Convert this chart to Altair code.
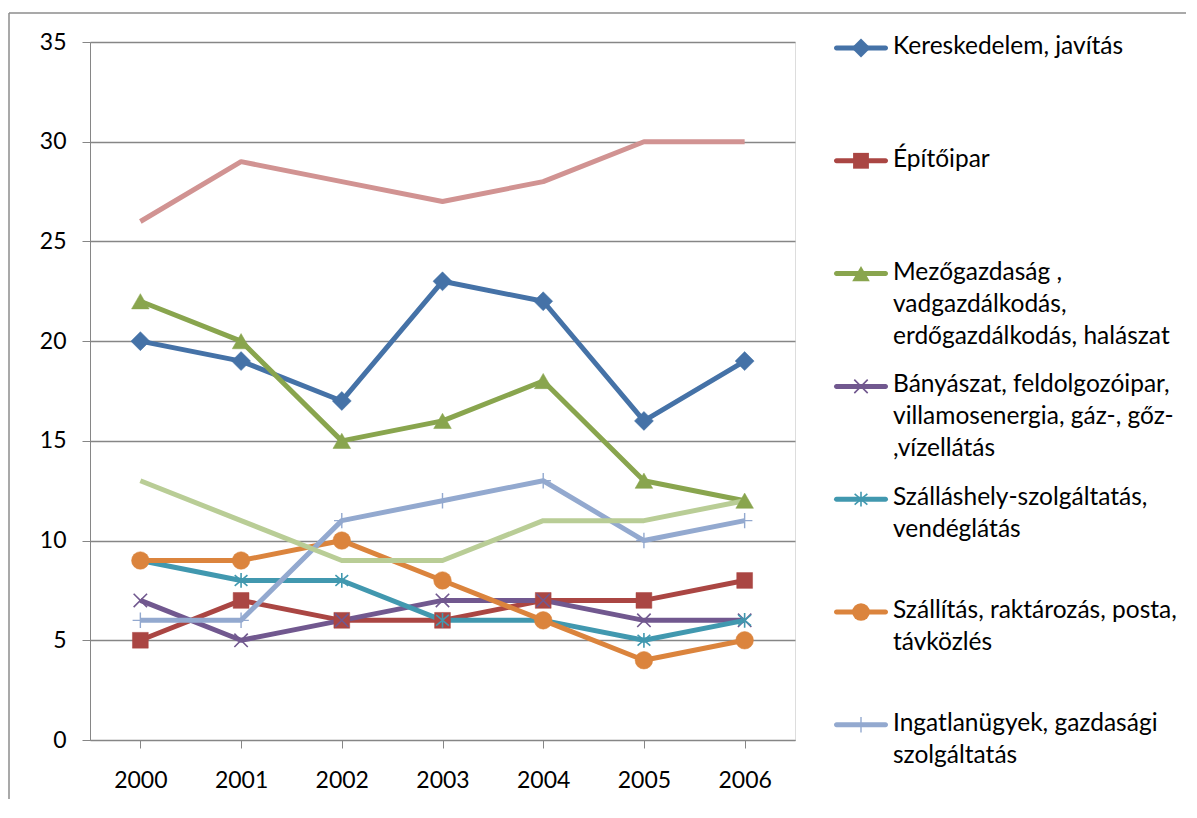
import altair as alt
import pandas as pd

years = ["2000", "2001", "2002", "2003", "2004", "2005", "2006"]

series_names = [
    "Kereskedelem, javítás",
    "Építőipar",
    "Mezőgazdaság , vadgazdálkodás, erdőgazdálkodás, halászat",
    "Bányászat, feldolgozóipar, villamosenergia, gáz-, gőz- ,vízellátás",
    "Szálláshely-szolgáltatás, vendéglátás",
    "Szállítás, raktározás, posta, távközlés",
    "Ingatlanügyek, gazdasági szolgáltatás",
    "Adatsor8",
    "Adatsor9",
]

kereskedelem = [20, 19, 17, 23, 22, 16, 19]
epitoipar = [5, 7, 6, 6, 7, 7, 8]
mezogazdasag = [22, 20, 15, 16, 18, 13, 12]
banyaszat = [7, 5, 6, 7, 7, 6, 6]
szallashely = [9, 8, 8, 6, 6, 5, 6]
szallitas = [9, 9, 10, 8, 6, 4, 5]
ingatlan = [6, 6, 11, 12, 13, 10, 11]
adatsor8 = [26, 29, 28, 27, 28, 30, 30]
adatsor9 = [13, 11, 9, 9, 11, 11, 12]

all_values = [kereskedelem, epitoipar, mezogazdasag, banyaszat, szallashely,
              szallitas, ingatlan, adatsor8, adatsor9]

legend_labels = [
    "Kereskedelem, javítás",
    "Építőipar",
    "Mezőgazdaság ,\nvadgazdálkodás,\nerdőgazdálkodás, halászat",
    "Bányászat, feldolgozóipar,\nvillamosenergia, gáz-, gőz-\n,vízellátás",
    "Szálláshely-szolgáltatás,\nvendéglátás",
    "Szállítás, raktározás, posta,\ntávközlés",
    "Ingatlanügyek, gazdasági\nszolgáltatás",
]

# styles
colors = ["#4572A7", "#AA4643", "#89A54E", "#71588F", "#4198AF",
          "#DB843D", "#93A9CF", "#D19392", "#B9CD96"]
X_PATH = "M-1,-1L1,1M-1,1L1,-1"
AST_PATH = "M0,-1.1L0,1.1M-0.95,-0.8L0.95,0.8M-0.95,0.8L0.95,-0.8"
PLUS_PATH = "M-1,0L1,0M0,-1L0,1"
markers = [
    ("diamond", 360, True, 0),
    ("square", 250, True, 0),
    ("triangle-up", 310, True, 0),
    (X_PATH, 180, False, 1.6),
    (AST_PATH, 180, False, 1.6),
    ("circle", 310, True, 0),
    (PLUS_PATH, 240, False, 1.4),
    None,
    None,
]

FONT = "Lato"
GRID = "#868686"
FRAME = "#8c8c8c"
LEG_X = 742  # legend block offset from plot's left edge (layout)

rows = []
for name, vals in zip(series_names, all_values):
    for yr, v in zip(years, vals):
        rows.append({"series": name, "year": yr, "value": v})
df = pd.DataFrame(rows)

x_enc = alt.X(
    "year:N", title=None, sort=years,
    scale=alt.Scale(paddingInner=0, paddingOuter=0),
    axis=alt.Axis(bandPosition=0, labelAngle=0, tickSize=8, tickColor=GRID,
                  domain=True, domainColor=GRID, labelPadding=21,
                  labelFontSize=23, labelFont=FONT, labelColor="#000000",
                  grid=False, labelBound=False),
)
y_enc = alt.Y(
    "value:Q", title=None,
    scale=alt.Scale(domain=[0, 35], nice=False, zero=True),
    axis=alt.Axis(values=[0, 5, 10, 15, 20, 25, 30, 35], grid=True,
                  gridColor=GRID, gridWidth=1.3, tickSize=8, tickColor=GRID,
                  domain=True, domainColor=GRID, labelPadding=16,
                  labelFontSize=23, labelFont=FONT, labelColor="#000000"),
)

layers = []
# chart frame (decoration only)
frame_df = pd.DataFrame({"f": [0]})
layers.append(alt.Chart(frame_df).mark_rule(color=FRAME, strokeWidth=1.5)
              .encode(x=alt.value(-81), x2=alt.value(1096), y=alt.value(-29)))
layers.append(alt.Chart(frame_df).mark_rule(color=FRAME, strokeWidth=1.5)
              .encode(x=alt.value(-81), y=alt.value(-29), y2=alt.value(757)))

for name, col, mk in zip(series_names, colors, markers):
    base = alt.Chart(df).transform_filter(alt.datum.series == name)
    layers.append(base.mark_line(color=col, strokeWidth=5, strokeJoin="round")
                  .encode(x=x_enc, y=y_enc))
for name, col, mk in zip(series_names, colors, markers):
    if mk is None:
        continue
    shape, size, filled, sw = mk
    base = alt.Chart(df).transform_filter(alt.datum.series == name)
    if filled:
        pm = base.mark_point(shape=shape, size=size, filled=True, fill=col,
                             opacity=1, stroke=col, strokeWidth=0.5)
    else:
        pm = base.mark_point(shape=shape, size=size, filled=False, stroke=col,
                             opacity=1, strokeWidth=sw)
    layers.append(pm.encode(x=x_enc, y=y_enc))

main = alt.layer(*layers)

# custom legend (drawn in the same view, own y scale)
leg_df = pd.DataFrame({
    "series": series_names[:7],
    "label": legend_labels,
    "idx": list(range(7)),
})
leg_y = alt.Y("idx:Q", axis=None,
              scale=alt.Scale(domain=[-0.053, 6.135], nice=False, zero=False,
                              reverse=True))
leg_layers = []
for name, col, mk in zip(series_names[:7], colors[:7], markers[:7]):
    base = alt.Chart(leg_df).transform_filter(alt.datum.series == name)
    leg_layers.append(base.mark_tick(color=col, thickness=5, size=54,
                                     orient="horizontal", opacity=1,
                                     cornerRadius=2.5)
                      .encode(y=leg_y, x=alt.value(LEG_X + 29)))
    shape, size, filled, sw = mk
    if filled:
        pm = base.mark_point(shape=shape, size=size, filled=True, fill=col,
                             opacity=1)
    else:
        pm = base.mark_point(shape=shape, size=size, filled=False, stroke=col,
                             opacity=1, strokeWidth=sw)
    leg_layers.append(pm.encode(y=leg_y, x=alt.value(LEG_X + 29)))
leg_layers.append(
    alt.Chart(leg_df).mark_text(align="left", baseline="top", lineBreak="\n",
                                font=FONT, fontSize=24.5, lineHeight=32,
                                color="#000000", yOffset=-13)
    .encode(y=leg_y, x=alt.value(LEG_X + 61), text="label:N")
)
legend = alt.layer(*leg_layers)

chart = (
    alt.layer(main, legend)
    .resolve_scale(y="independent")
    .properties(width=705, height=698,
                padding={"left": 0, "top": 4, "right": 0, "bottom": 0})
    .configure_view(strokeWidth=0)
    .configure(background="#ffffff")
)

chart.save("out.html", embed_options={"renderer": "svg", "actions": False})
